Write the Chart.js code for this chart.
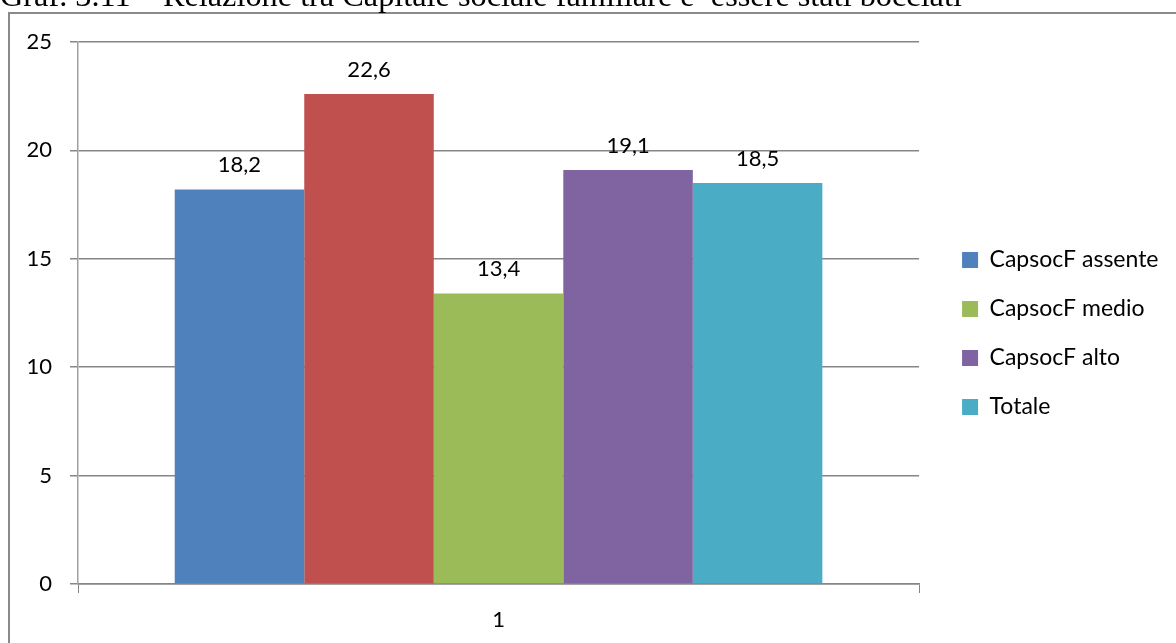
<!DOCTYPE html>
<html>
<head>
<meta charset="utf-8">
<script src="https://cdn.jsdelivr.net/npm/chart.js@4/dist/chart.umd.min.js"></script>
<style>
    html, body {
        margin: 0;
        padding: 0;
        background: #ffffff;
        overflow: hidden;
    }

    #title {
        position: absolute;
        left: 0;
        top: -23px;
        font-family: "Liberation Serif", "Times New Roman", serif;
        font-size: 32.3px;
        line-height: 36px;
        color: #000000;
        white-space: pre;
        z-index: 2;
    }

    #wrap {
        position: absolute;
        left: 0;
        top: 0;
        width: 1176px;
        height: 643px;
    }
</style>
</head>
<body>

<div id="title">Graf. 3.11 – Relazione tra Capitale sociale familiare e  essere stati bocciati</div>

<div id="wrap">
    <canvas id="barChart"></canvas>
</div>

<script>
const categories = ["1"];

const seriesNames = [
    "CapsocF assente",
    "CapsocF basso",
    "CapsocF medio",
    "CapsocF alto",
    "Totale"
];

const seriesValues = [
    [18.2],
    [22.6],
    [13.4],
    [19.1],
    [18.5]
];

// the red series has no entry in the original legend
const hiddenInLegend = ["CapsocF basso"];

const yTicks = [0, 5, 10, 15, 20, 25];

const seriesColors = [
    "#4f81bd",
    "#c0504d",
    "#9bbb59",
    "#8064a2",
    "#4bacc6"
];

const gridColor = "#868686";
const labelFont = { family: "Lato", size: 22 };
const legendFont = { family: "Lato", size: 23 };

// frame around the whole chart, open on the right and bottom like the picture
const framePlugin = {
    id: "frame",
    beforeDraw(chart) {
        const ctx = chart.ctx;
        ctx.save();
        ctx.strokeStyle = "#8a8a8a";
        ctx.lineWidth = 2;
        ctx.strokeRect(9, 13, 1400, 1000);
        ctx.restore();
    }
};

// value labels above each bar, with comma decimals
const valueLabels = {
    id: "valueLabels",
    afterDatasetsDraw(chart) {
        const ctx = chart.ctx;
        ctx.save();
        ctx.font = labelFont.size + "px " + labelFont.family;
        ctx.fillStyle = "#000000";
        ctx.textAlign = "center";
        ctx.textBaseline = "alphabetic";

        chart.data.datasets.forEach((ds, i) => {
            const meta = chart.getDatasetMeta(i);
            meta.data.forEach((bar, j) => {
                const txt = String(ds.data[j]).replace(".", ",");
                ctx.fillText(txt, bar.x, bar.y - 17);
            });
        });

        ctx.restore();
    }
};

function createChart() {

    const datasets = seriesNames.map((name, i) => ({
        label: name,
        data: seriesValues[i],
        backgroundColor: seriesColors[i],
        borderWidth: 0,
        barPercentage: 1,
        categoryPercentage: 0.77
    }));

    new Chart(document.getElementById("barChart"), {
        type: "bar",
        data: {
            labels: categories,
            datasets
        },
        options: {
            responsive: true,
            maintainAspectRatio: false,
            animation: false,
            devicePixelRatio: 1,
            layout: {
                padding: { left: 18, top: 42, right: 7.5, bottom: 0 }
            },
            plugins: {
                legend: {
                    position: "right",
                    align: "center",
                    fullSize: false,
                    maxWidth: 320,
                    // empty title only pushes the entries down a little
                    title: {
                        display: true,
                        text: "",
                        padding: 0,
                        font: { size: 41, lineHeight: 1 }
                    },
                    labels: {
                        boxWidth: 16,
                        boxHeight: 16,
                        padding: 26,
                        color: "#000000",
                        font: legendFont,
                        filter: item => !hiddenInLegend.includes(item.text)
                    }
                },
                tooltip: { enabled: false }
            },
            scales: {
                x: {
                    grid: {
                        offset: true,
                        drawOnChartArea: false,
                        color: gridColor,
                        tickLength: 9
                    },
                    border: { color: gridColor, width: 1.5 },
                    ticks: {
                        color: "#000000",
                        font: labelFont,
                        padding: 14
                    },
                    afterFit: scale => { scale.height = 59; }
                },
                y: {
                    min: 0,
                    max: 25,
                    afterBuildTicks: scale => {
                        scale.ticks = yTicks.map(v => ({ value: v }));
                    },
                    grid: {
                        color: gridColor,
                        lineWidth: 1.5,
                        tickLength: 8
                    },
                    border: { color: "#a0a0a0", width: 1.5 },
                    ticks: {
                        color: "#000000",
                        font: labelFont,
                        padding: 18
                    },
                    afterFit: scale => { scale.width = 60; }
                },
                // empty spacer between the plot and the legend
                gap: {
                    position: "right",
                    display: true,
                    grid: { display: false },
                    border: { display: false },
                    ticks: { display: false },
                    afterFit: scale => { scale.width = 17; }
                }
            }
        },
        plugins: [framePlugin, valueLabels]
    });
}

Promise.all([
    document.fonts.load("22px Lato"),
    document.fonts.load("23px Lato")
]).then(createChart, createChart);
</script>
</body>
</html>
